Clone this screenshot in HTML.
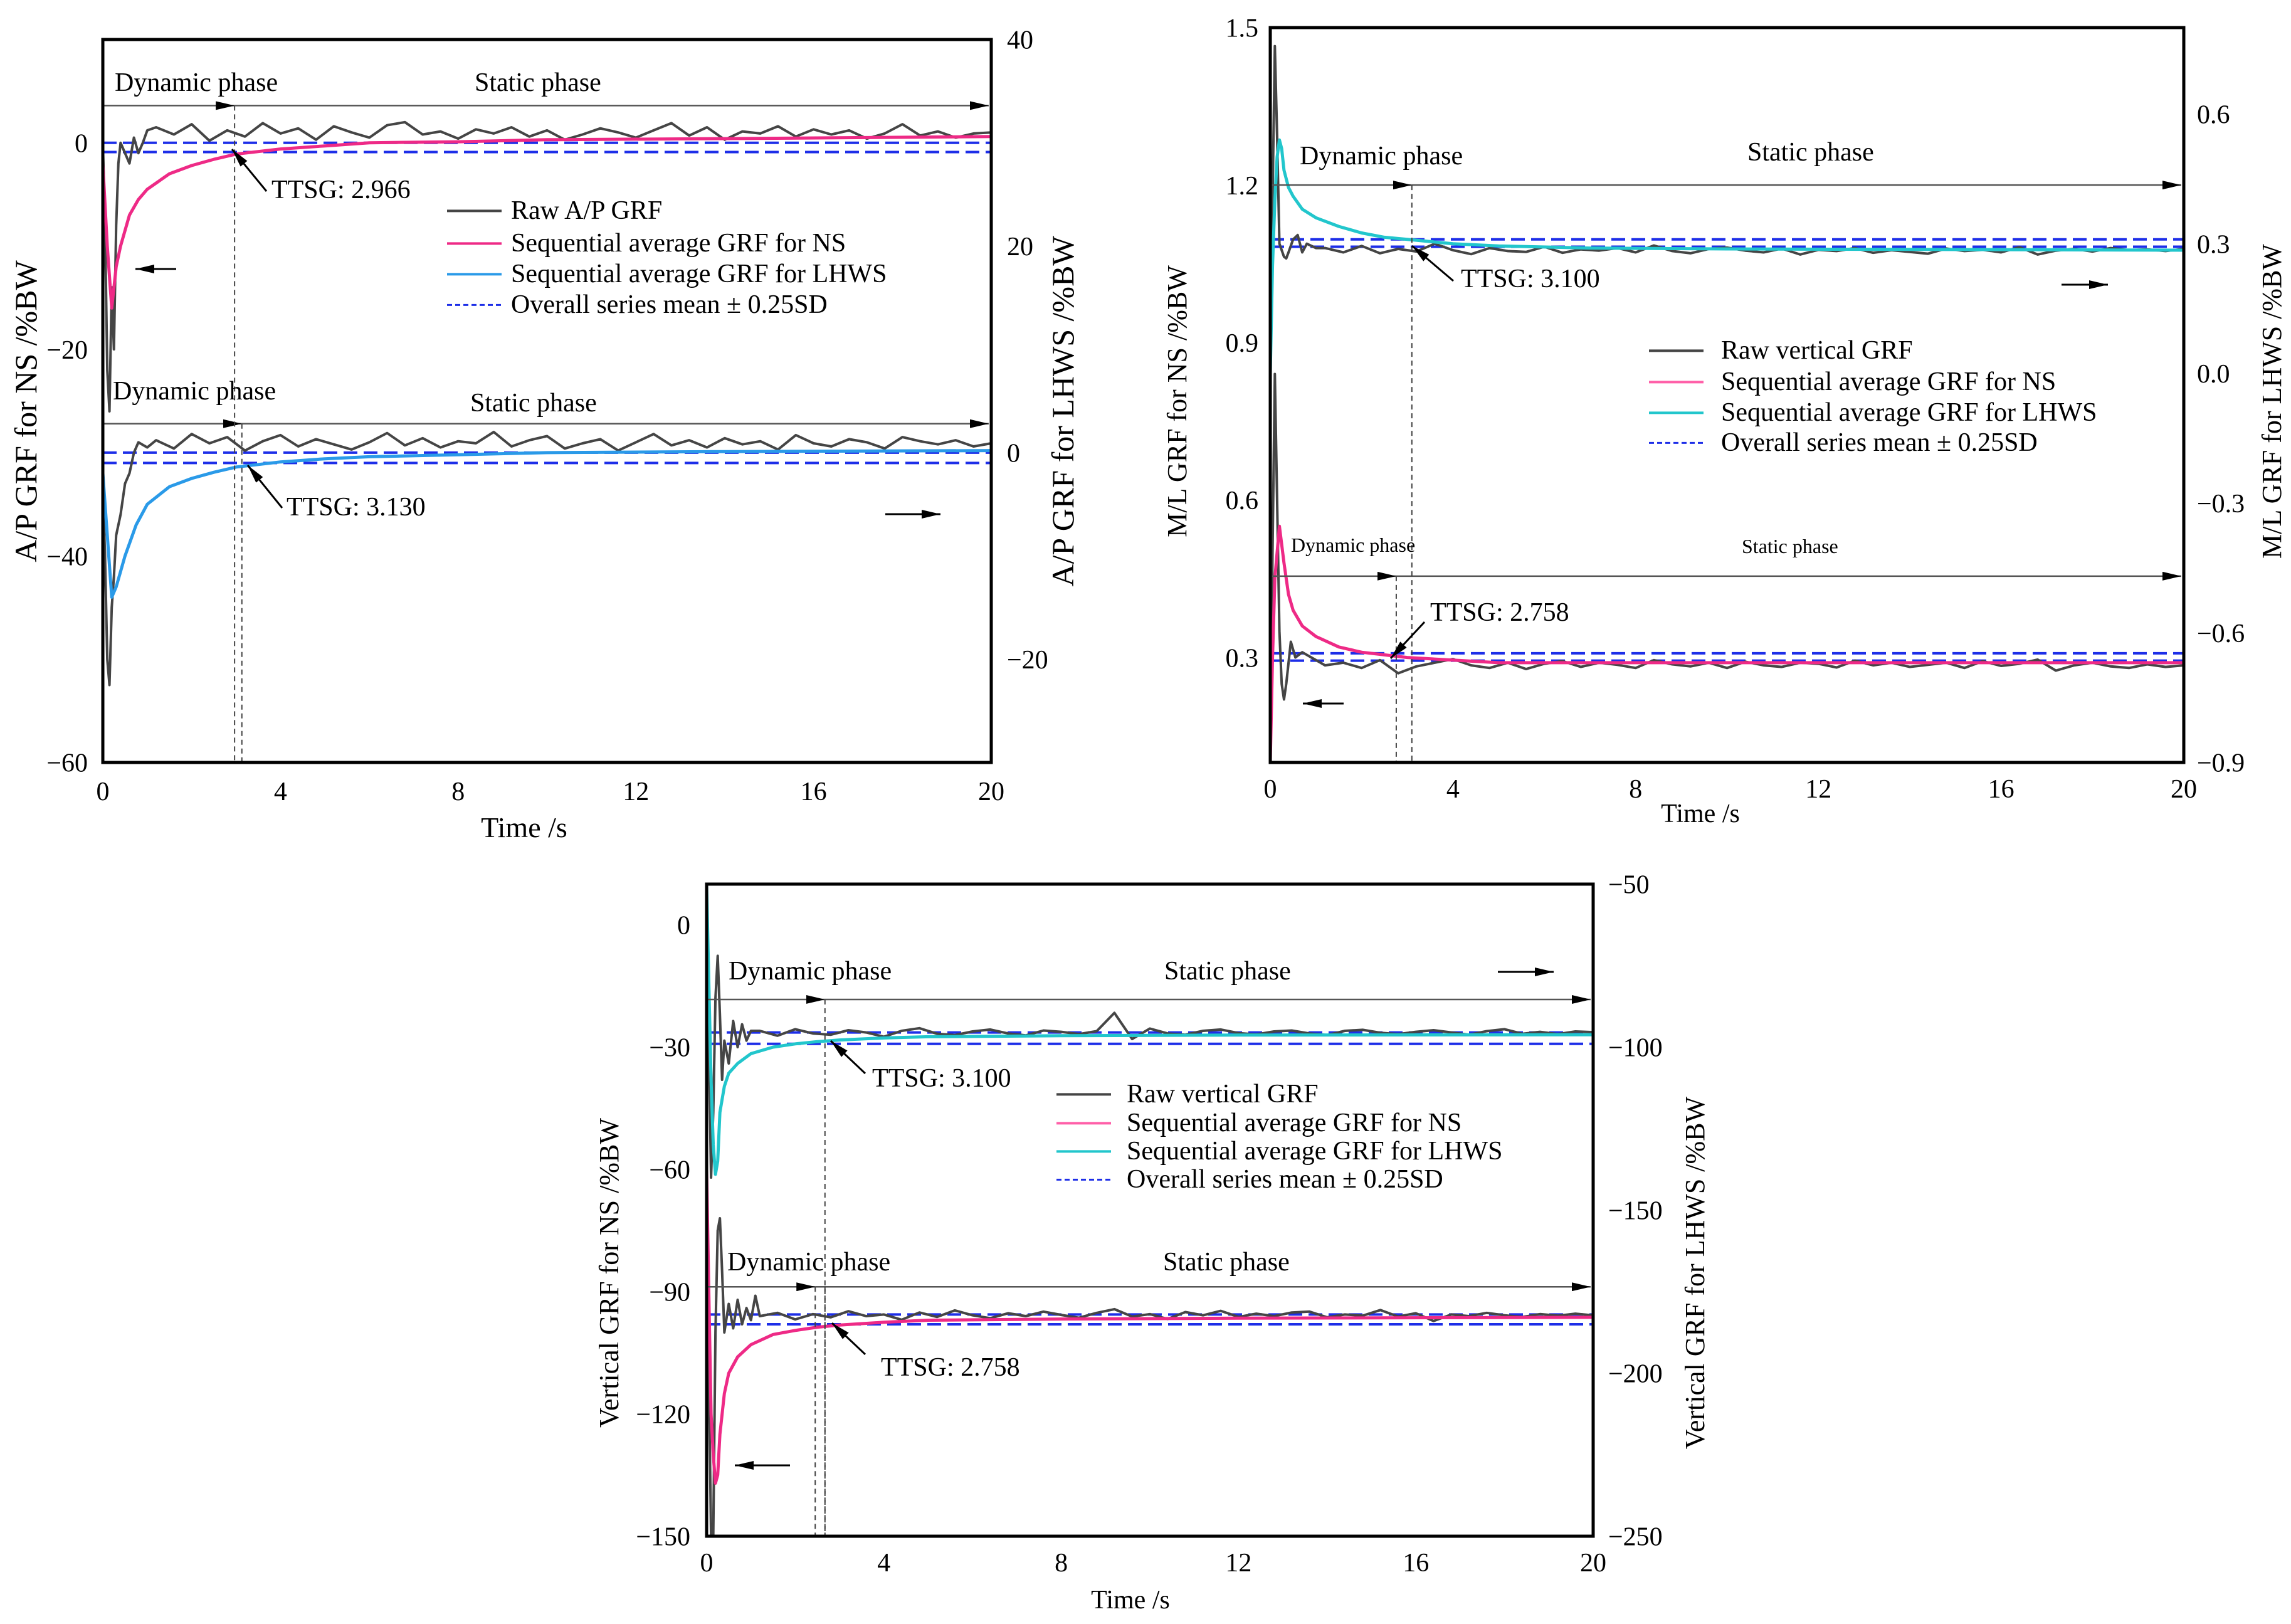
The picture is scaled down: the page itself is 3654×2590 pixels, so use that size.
<!DOCTYPE html>
<html><head><meta charset="utf-8">
<style>
html,body{margin:0;padding:0;background:#fff;}
svg{display:block;font-family:"Liberation Serif",serif;}
svg text{font-family:"Liberation Serif",serif;}
</style></head>
<body>
<svg id="fig" width="3654" height="2590" viewBox="0 0 3654 2590" xmlns="http://www.w3.org/2000/svg" font-family="Liberation Serif, serif">
<defs>
<marker id="ahb" markerWidth="30" markerHeight="14" refX="30" refY="7" orient="auto" markerUnits="userSpaceOnUse"><path d="M0,0 L30,7 L0,14 Z" fill="#000"/></marker>
</defs>
</svg>
<script>
// ---------- shared tail time grid ----------
const tailT = [];
for (let t = 1.2; t <= 20.01; t += 0.4) tailT.push(+t.toFixed(2));

// ---------- Panel 1 (A/P) ----------
const p1XTicks = [0,4,8,12,16,20];
const p1LTicks = [0,-20,-40,-60];
const p1RTicks = [40,20,0,-20];
const p1TopRawT = [0,0.05,0.1,0.15,0.2,0.25,0.3,0.35,0.4,0.5,0.6,0.7,0.8,0.9,1.0];
const p1TopRawV = [0,-8,-22,-26,-14,-20,-8,-2,0,-1,-2,0.5,-1,0,1.2];
const p1TopRawTail = [1.5,0.8,1.8,0.2,1.2,0.6,1.9,0.9,1.4,0.3,1.6,1.0,0.5,1.7,2.0,0.8,1.1,0.4,1.3,0.9,1.5,0.6,1.2,0.3,0.8,1.4,1.0,0.5,1.2,1.9,0.7,1.5,0.3,1.1,0.9,1.6,0.6,1.3,0.8,1.2,0.4,0.9,1.8,0.7,1.1,0.5,0.9,1.0];
const p1NsT = [0,0.1,0.2,0.3,0.4,0.6,0.8,1,1.5,2,2.5,3,4,5,6,8,10,14,20];
const p1NsV = [-2,-10,-16,-12,-10,-7,-5.5,-4.5,-3,-2.2,-1.6,-1.1,-0.6,-0.3,0,0.1,0.3,0.4,0.6];
const p1TopMeans = [0,-0.9];
const p1BotRawT = [0,0.05,0.1,0.15,0.2,0.25,0.3,0.4,0.5,0.6,0.7,0.8,1.0];
const p1BotRawV = [-3,-10,-20,-22.5,-15,-12,-8,-6,-3,-2,0,1,0.5];
const p1BotRawTail = [1.2,0.4,1.8,0.9,1.5,0.2,1.1,1.7,0.6,1.3,0.8,0.3,1.0,1.9,0.7,1.4,0.5,1.1,0.9,2.0,0.6,1.2,1.6,0.4,0.9,1.3,0.2,1.0,1.8,0.7,1.2,0.5,1.4,0.8,1.1,0.3,1.7,0.9,0.6,1.3,1.0,0.4,1.5,1.1,0.8,1.2,0.6,0.9];
const p1LhT = [0,0.1,0.2,0.3,0.5,0.75,1,1.5,2,2.5,3,4,5,6,8,10,14,20];
const p1LhV = [-2,-8,-14,-13,-10,-7,-5,-3.3,-2.5,-1.9,-1.4,-0.9,-0.6,-0.4,-0.2,0,0.1,0.2];
const p1BotMeans = [0,-1];

// ---------- Panel 2 (M/L) ----------
const p2XTicks = [0,4,8,12,16,20];
const p2LTicks = [1.5,1.2,0.9,0.6,0.3];
const p2RTicks = [0.6,0.3,0.0,-0.3,-0.6,-0.9];
const p2TopRawT = [0,0.05,0.1,0.15,0.2,0.3,0.35,0.4,0.5,0.6,0.7,0.8,1.0];
const p2TopRawV = [0.0,0.4,0.757,0.55,0.3,0.27,0.266,0.28,0.31,0.32,0.28,0.3,0.29];
const p2TopRawTail = [0.29,0.28,0.295,0.278,0.288,0.282,0.3,0.285,0.276,0.29,0.283,0.281,0.293,0.279,0.287,0.284,0.29,0.28,0.296,0.283,0.278,0.288,0.291,0.284,0.28,0.289,0.275,0.286,0.283,0.29,0.279,0.285,0.281,0.277,0.289,0.283,0.286,0.28,0.292,0.275,0.284,0.288,0.282,0.29,0.285,0.287,0.283,0.288];
const p2LhT = [0,0.05,0.1,0.15,0.2,0.25,0.3,0.4,0.5,0.7,1,1.5,2,2.5,3,4,5,7,10,20];
const p2LhV = [0.0,0.25,0.4,0.5,0.54,0.52,0.47,0.43,0.41,0.38,0.36,0.34,0.325,0.315,0.31,0.3,0.295,0.29,0.288,0.285];
const p2TopMeans = [0.31,0.293];
const p2BotRawT = [0,0.05,0.1,0.15,0.2,0.25,0.3,0.35,0.45,0.55,0.7,0.9,1.1];
const p2BotRawV = [0.1,0.5,0.84,0.6,0.35,0.25,0.22,0.25,0.33,0.3,0.31,0.3,0.29];
const p2BotRawTail = [0.285,0.29,0.28,0.295,0.27,0.283,0.29,0.297,0.285,0.28,0.29,0.278,0.288,0.293,0.282,0.29,0.286,0.28,0.295,0.287,0.283,0.29,0.28,0.292,0.285,0.282,0.29,0.288,0.281,0.294,0.285,0.29,0.282,0.286,0.29,0.28,0.293,0.284,0.288,0.296,0.275,0.285,0.29,0.283,0.28,0.287,0.282,0.285];
const p2NsT = [0,0.05,0.1,0.2,0.3,0.4,0.5,0.7,1,1.5,2,2.5,3,4,5,7,10,20];
const p2NsV = [0.1,0.3,0.45,0.55,0.48,0.42,0.39,0.36,0.34,0.32,0.31,0.305,0.3,0.295,0.29,0.29,0.29,0.29];
const p2BotMeans = [0.308,0.294];

// ---------- Panel 3 (Vertical) ----------
const p3XTicks = [0,4,8,12,16,20];
const p3LTicks = [0,-30,-60,-90,-120,-150];
const p3RTicks = [-50,-100,-150,-200,-250];
const p3TopRawT = [0,0.05,0.1,0.15,0.2,0.25,0.3,0.35,0.4,0.5,0.6,0.7,0.8,0.9,1.0];
const p3TopRawV = [-50,-100,-140,-120,-85,-72,-90,-110,-98,-105,-92,-100,-93,-98,-95];
const p3TopRawTail = [-95,-96.5,-94.5,-95.8,-96.2,-94.8,-95.5,-96.8,-95,-94.2,-95.9,-96.3,-95.2,-94.6,-95.8,-96.4,-94.9,-95.3,-96,-95.1,-89.5,-97.5,-94.3,-95.8,-96.2,-95,-94.6,-95.7,-96.1,-95.2,-94.9,-95.8,-96.3,-95,-94.7,-95.6,-96,-95.3,-94.8,-95.5,-96.2,-95.1,-94.5,-95.9,-95.3,-96,-95.2,-95.4];
const p3LhT = [0,0.05,0.1,0.15,0.2,0.25,0.3,0.4,0.5,0.7,1,1.5,2,2.5,3,4,5,8,12,20];
const p3LhV = [-50,-80,-110,-130,-139,-135,-120,-112,-108,-105,-102,-100,-99,-98.3,-97.8,-97.2,-96.8,-96.5,-96.3,-96.2];
const p3TopMeans = [-95.5,-99];
const p3BotRawT = [0,0.05,0.1,0.15,0.2,0.25,0.3,0.35,0.4,0.5,0.6,0.7,0.8,0.9,1.0,1.1];
const p3BotRawV = [-60,-110,-150,-150,-100,-75,-72,-85,-100,-93,-99,-92,-98,-94,-97,-91];
const p3BotRawTail = [-96,-95.2,-96.8,-95.5,-96.3,-94.8,-96,-95.6,-96.9,-95.1,-96.2,-94.6,-95.8,-96.5,-95.3,-96,-94.9,-95.7,-96.4,-95.2,-94.3,-96.1,-95.5,-96.7,-95,-95.8,-94.7,-96.2,-95.4,-96,-95.1,-94.9,-96.3,-95.6,-95.9,-94.5,-96.1,-95.3,-97.2,-95.6,-96,-95.2,-95.8,-96.2,-95.5,-95.9,-95.4,-95.8];
const p3NsT = [0,0.05,0.1,0.15,0.2,0.25,0.3,0.4,0.5,0.7,1,1.5,2,2.5,3,4,5,8,12,20];
const p3NsV = [-60,-90,-120,-130,-137,-135,-125,-115,-110,-106,-103,-100.5,-99.5,-98.7,-98.2,-97.5,-97,-96.7,-96.5,-96.3];
const p3BotMeans = [-95.6,-98];

// ---------- helpers ----------
const NS = 'http://www.w3.org/2000/svg';
const svg = document.getElementById('fig');
function mk(tag, attrs, parent, text) {
  const e = document.createElementNS(NS, tag);
  for (const k in attrs) e.setAttribute(k, attrs[k]);
  if (text !== undefined) e.textContent = text;
  (parent || svg).appendChild(e);
  return e;
}
function lin(d0, d1, r0, r1) { return v => r0 + (v - d0) / (d1 - d0) * (r1 - r0); }
const GREY = '#454545', PINK = '#ee2a86', CYAN = '#22c6cc', BLUE1 = '#2a9ae8', DASH = '#1d2ee8';

function makePanel(cfg) {
  const g = mk('g', {});
  
  
  const x = lin(0, 20, cfg.x0, cfg.x1);
  const yl = lin(cfg.l0, cfg.l1, cfg.y1, cfg.y0);
  const yr = lin(cfg.r0, cfg.r1, cfg.y1, cfg.y0);
  cfg.x = x; cfg.yl = yl; cfg.yr = yr; cfg.g = g;
  return cfg;
}
function path(P, ts, vs, ys, color, w, name, dash) {
  let d = '';
  ts.forEach((t, i) => { d += (i ? 'L' : 'M') + P.x(t).toFixed(1) + ',' + ys(vs[i]).toFixed(1); });
  const e = mk('path', {d: d, fill: 'none', stroke: color, 'stroke-width': w, 'stroke-linejoin': 'round'}, P.g);
  if (dash) e.setAttribute('stroke-dasharray', dash);
  
  
  return e;
}
function hline(P, v, ys, name) {
  const y = ys(v);
  const e = mk('line', {x1: P.x0, x2: P.x1, y1: y, y2: y, stroke: DASH, 'stroke-width': 4, 'stroke-dasharray': '22,10'}, P.g);
  
  
}
function text(P, s, xx, yy, size, anchor, name, rot) {
  const a = {x: xx, y: yy, 'font-size': size, 'text-anchor': anchor || 'start', fill: '#000', 'font-family': 'Liberation Serif, serif'};
  if (rot) a.transform = 'rotate(-90 ' + xx + ' ' + yy + ')';
  const e = mk('text', a, P.g, s);
  
  
  return e;
}
function axes(P, xT, lT, rT, lFmt, rFmt, tickSize, lx, rx, xy) {
  const f = mk('rect', {x: P.x0, y: P.y0, width: P.x1 - P.x0, height: P.y1 - P.y0, fill: 'none', stroke: '#000', 'stroke-width': 5}, P.g);
  
  
  xT.forEach(v => text(P, String(v), P.x(v), xy, tickSize, 'middle', 'x-tick-label'));
  lT.forEach(v => text(P, lFmt(v), lx, P.yl(v) + tickSize * 0.35, tickSize, 'end', 'left-y-tick-label'));
  rT.forEach(v => text(P, rFmt(v), rx, P.yr(v) + tickSize * 0.35, tickSize, 'start', 'right-y-tick-label'));
}
const neg = v => (v < 0 ? '\u2212' + Math.abs(v) : String(v));
const neg1 = v => (v < 0 ? '\u2212' + Math.abs(v).toFixed(1) : v.toFixed(1));
function phaseArrow(P, yv, ys, ttsg, name) {
  const y = ys(yv);
  const a = mk('line', {x1: P.x0, x2: P.x(ttsg), y1: y, y2: y, stroke: '#555', 'stroke-width': 2.5, 'marker-end': 'url(#ahb)'}, P.g);
  
  
  const b = mk('line', {x1: P.x(ttsg), x2: P.x1 - 4, y1: y, y2: y, stroke: '#555', 'stroke-width': 2.5, 'marker-end': 'url(#ahb)'}, P.g);
  
  
}
function vdash(P, t, yTop, name) {
  const e = mk('line', {x1: P.x(t), x2: P.x(t), y1: yTop, y2: P.y1, stroke: '#444', 'stroke-width': 2, 'stroke-dasharray': '8,6'}, P.g);
  
  
}
function pointer(P, x1, y1, x2, y2, name) {
  const e = mk('line', {x1: x1, y1: y1, x2: x2, y2: y2, stroke: '#000', 'stroke-width': 3, 'marker-end': 'url(#ahb)'}, P.g);
  
  
}
function legend(P, lx, tx, ys, labels, colors, size) {
  labels.forEach((l, i) => {
    const ln = mk('line', {x1: lx, x2: lx + 87, y1: ys[i] - size * 0.3, y2: ys[i] - size * 0.3, stroke: colors[i], 'stroke-width': i === 3 ? 3 : 4}, P.g);
    if (i === 3) ln.setAttribute('stroke-dasharray', '8,5');
    
    
    text(P, l, tx, ys[i], size, 'start', 'legend-entry');
  });
}
const cat = (a, b) => a.concat(b);

// ================= Panel 1 =================
const P1 = makePanel({name: 'ap-grf-panel', x0: 164, x1: 1581, y0: 63, y1: 1216, l0: -60, l1: 10, r0: -30, r1: 40});
[p1TopMeans[0], p1TopMeans[1]].forEach(v => hline(P1, v, P1.yl, 'ns-mean-band-line'));
[p1BotMeans[0], p1BotMeans[1]].forEach(v => hline(P1, v, P1.yr, 'lhws-mean-band-line'));
path(P1, cat(p1TopRawT, tailT), cat(p1TopRawV, p1TopRawTail), P1.yl, GREY, 4, 'raw-ap-grf-ns');
path(P1, cat(p1BotRawT, tailT), cat(p1BotRawV, p1BotRawTail), P1.yr, GREY, 4, 'raw-ap-grf-lhws');
path(P1, p1NsT, p1NsV, P1.yl, PINK, 5, 'seq-avg-ns');
path(P1, p1LhT, p1LhV, P1.yr, BLUE1, 5, 'seq-avg-lhws');
phaseArrow(P1, 3.6, P1.yl, 2.966, 'ns-phase');
phaseArrow(P1, -27.2, P1.yl, 3.13, 'lhws-phase');
vdash(P1, 2.966, P1.yl(3.6), 'ttsg-ns-line');
vdash(P1, 3.13, P1.yl(-27.2), 'ttsg-lhws-line');
text(P1, 'Dynamic phase', 183, 145, 42, 'start', 'dynamic-phase-label');
text(P1, 'Static phase', 757, 145, 42, 'start', 'static-phase-label');
text(P1, 'Dynamic phase', 180, 637, 42, 'start', 'dynamic-phase-label');
text(P1, 'Static phase', 750, 656, 42, 'start', 'static-phase-label');
text(P1, 'TTSG: 2.966', 433, 316, 42, 'start', 'ttsg-label');
pointer(P1, 425, 305, 370, 238, 'ttsg-pointer');
text(P1, 'TTSG: 3.130', 457, 822, 42, 'start', 'ttsg-label');
pointer(P1, 450, 810, 395, 742, 'ttsg-pointer');
pointer(P1, 281, 429, 216, 429, 'left-axis-indicator');
pointer(P1, 1412, 820, 1500, 820, 'right-axis-indicator');
legend(P1, 713, 815, [349, 401, 450, 499], ['Raw A/P GRF', 'Sequential average GRF for NS', 'Sequential average GRF for LHWS', 'Overall series mean \u00b1 0.25SD'], [GREY, PINK, BLUE1, DASH], 42);
axes(P1, p1XTicks, p1LTicks, p1RTicks, neg, neg, 42, 140, 1606, 1276);
text(P1, 'A/P GRF for NS /%BW', 58, 656, 50, 'middle', 'left-y-axis-title', true);
text(P1, 'A/P GRF for LHWS /%BW', 1712, 656, 50, 'middle', 'right-y-axis-title', true);
text(P1, 'Time /s', 836, 1335, 46, 'middle', 'x-axis-title');

// ================= Panel 2 =================
const P2 = makePanel({name: 'ml-grf-panel', x0: 2026, x1: 3483, y0: 44, y1: 1216, l0: 0.1, l1: 1.5, r0: -0.9, r1: 0.8});
p2TopMeans.forEach(v => hline(P2, v, P2.yr, 'lhws-mean-band-line'));
p2BotMeans.forEach(v => hline(P2, v, P2.yl, 'ns-mean-band-line'));
path(P2, cat(p2TopRawT, tailT), cat(p2TopRawV, p2TopRawTail), P2.yr, GREY, 4, 'raw-ml-grf-lhws');
path(P2, cat(p2BotRawT, tailT), cat(p2BotRawV, p2BotRawTail), P2.yl, GREY, 4, 'raw-ml-grf-ns');
path(P2, p2LhT, p2LhV, P2.yr, CYAN, 5, 'seq-avg-lhws');
path(P2, p2NsT, p2NsV, P2.yl, PINK, 5, 'seq-avg-ns');
phaseArrow(P2, 1.2, P2.yl, 3.1, 'lhws-phase');
phaseArrow(P2, 0.455, P2.yl, 2.758, 'ns-phase');
vdash(P2, 3.1, P2.yl(1.2), 'ttsg-lhws-line');
vdash(P2, 2.758, P2.yl(0.455), 'ttsg-ns-line');
text(P2, 'Dynamic phase', 2073, 262, 42, 'start', 'dynamic-phase-label');
text(P2, 'Static phase', 2787, 256, 42, 'start', 'static-phase-label');
text(P2, 'Dynamic phase', 2059, 880, 32, 'start', 'dynamic-phase-label');
text(P2, 'Static phase', 2778, 882, 32, 'start', 'static-phase-label');
text(P2, 'TTSG: 3.100', 2330, 458, 42, 'start', 'ttsg-label');
pointer(P2, 2318, 448, 2252, 392, 'ttsg-pointer');
text(P2, 'TTSG: 2.758', 2281, 990, 42, 'start', 'ttsg-label');
pointer(P2, 2272, 992, 2218, 1050, 'ttsg-pointer');
pointer(P2, 3288, 454, 3362, 454, 'right-axis-indicator');
pointer(P2, 2143, 1122, 2078, 1122, 'left-axis-indicator');
legend(P2, 2630, 2745, [572, 622, 671, 719], ['Raw vertical GRF', 'Sequential average GRF for NS', 'Sequential average GRF for LHWS', 'Overall series mean \u00b1 0.25SD'], [GREY, '#ff5fa8', CYAN, DASH], 42);
axes(P2, p2XTicks, p2LTicks, p2RTicks, v => v.toFixed(1), neg1, 42, 2007, 3504, 1272);
text(P2, 'M/L GRF for NS /%BW', 1892, 640, 44, 'middle', 'left-y-axis-title', true);
text(P2, 'M/L GRF for LHWS /%BW', 3638, 640, 44, 'middle', 'right-y-axis-title', true);
text(P2, 'Time /s', 2712, 1311, 42, 'middle', 'x-axis-title');

// ================= Panel 3 =================
const P3 = makePanel({name: 'vertical-grf-panel', x0: 1127, x1: 2541, y0: 1410, y1: 2450, l0: -150, l1: 10, r0: -250, r1: -50});
p3TopMeans.forEach(v => hline(P3, v, P3.yr, 'lhws-mean-band-line'));
p3BotMeans.forEach(v => hline(P3, v, P3.yl, 'ns-mean-band-line'));
path(P3, cat(p3TopRawT, tailT), cat(p3TopRawV, p3TopRawTail), P3.yr, GREY, 4, 'raw-vertical-grf-lhws');
path(P3, cat(p3BotRawT, tailT), cat(p3BotRawV, p3BotRawTail), P3.yl, GREY, 4, 'raw-vertical-grf-ns');
path(P3, p3LhT, p3LhV, P3.yr, CYAN, 5, 'seq-avg-lhws');
path(P3, p3NsT, p3NsV, P3.yl, PINK, 5, 'seq-avg-ns');
phaseArrow(P3, -18.3, P3.yl, 2.67, 'lhws-phase');
phaseArrow(P3, -88.8, P3.yl, 2.45, 'ns-phase');
vdash(P3, 2.67, P3.yl(-18.3), 'ttsg-lhws-line');
vdash(P3, 2.45, P3.yl(-88.8), 'ttsg-ns-line');
vdash(P3, 2.67, P3.yl(-88.8), 'ttsg-ns-line-2');
text(P3, 'Dynamic phase', 1162, 1562, 42, 'start', 'dynamic-phase-label');
text(P3, 'Static phase', 1857, 1562, 42, 'start', 'static-phase-label');
text(P3, 'Dynamic phase', 1160, 2026, 42, 'start', 'dynamic-phase-label');
text(P3, 'Static phase', 1855, 2026, 42, 'start', 'static-phase-label');
text(P3, 'TTSG: 3.100', 1391, 1733, 42, 'start', 'ttsg-label');
pointer(P3, 1380, 1712, 1325, 1660, 'ttsg-pointer');
text(P3, 'TTSG: 2.758', 1405, 2194, 42, 'start', 'ttsg-label');
pointer(P3, 1380, 2160, 1327, 2110, 'ttsg-pointer');
pointer(P3, 2389, 1550, 2478, 1550, 'right-axis-indicator');
pointer(P3, 1260, 2337, 1172, 2337, 'left-axis-indicator');
legend(P3, 1685, 1797, [1758, 1804, 1849, 1894], ['Raw vertical GRF', 'Sequential average GRF for NS', 'Sequential average GRF for LHWS', 'Overall series mean \u00b1 0.25SD'], [GREY, '#ff5fa8', CYAN, DASH], 42);
axes(P3, p3XTicks, p3LTicks, p3RTicks, neg, neg, 42, 1101, 2565, 2506);
text(P3, 'Vertical GRF for NS /%BW', 986, 2030, 44, 'middle', 'left-y-axis-title', true);
text(P3, 'Vertical GRF for LHWS /%BW', 2718, 2030, 44, 'middle', 'right-y-axis-title', true);
text(P3, 'Time /s', 1803, 2565, 42, 'middle', 'x-axis-title');
</script>
</body></html>
